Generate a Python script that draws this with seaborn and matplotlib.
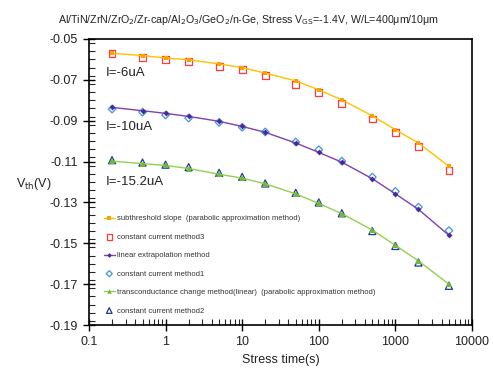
import matplotlib
matplotlib.use("Agg")
import matplotlib.pyplot as plt
import seaborn as sns
import numpy as np
import pandas as pd
from matplotlib.ticker import MultipleLocator, LogLocator, NullFormatter, FormatStrFormatter

# ---- data ----
stress_time = [0.2, 0.5, 1, 2, 5, 10, 20, 50, 100, 200, 500, 1000, 2000, 5000]
subthreshold = [-0.0570, -0.0581, -0.0593, -0.0602, -0.0622, -0.0640, -0.0667, -0.0705, -0.0749,
                -0.0798, -0.0876, -0.0944, -0.1009, -0.1123]
cc_method3 = [-0.0570, -0.0589, -0.0599, -0.0610, -0.0633, -0.0648, -0.0679, -0.0724, -0.0762,
              -0.0814, -0.0892, -0.0957, -0.1028, -0.1144]
linear_extrap = [-0.0835, -0.0851, -0.0864, -0.0879, -0.0903, -0.0928, -0.0957, -0.1009, -0.1055,
                 -0.1103, -0.1184, -0.1258, -0.1334, -0.1461]
cc_method1 = [-0.0843, -0.0858, -0.0872, -0.0887, -0.0908, -0.0932, -0.0955, -0.1004, -0.1042,
              -0.1098, -0.1176, -0.1246, -0.1323, -0.1438]
transcond = [-0.1098, -0.1110, -0.1119, -0.1134, -0.1162, -0.1181, -0.1209, -0.1258, -0.1305,
             -0.1355, -0.1435, -0.1510, -0.1586, -0.1700]
cc_method2 = [-0.1093, -0.1105, -0.1115, -0.1127, -0.1155, -0.1175, -0.1207, -0.1253, -0.1300,
              -0.1353, -0.1440, -0.1513, -0.1594, -0.1708]

labels = ["subthreshold slope  (parabolic approximation method)",
          "constant current method3",
          "linear extrapolation method",
          "constant current method1",
          "transconductance change method(linear)  (parabolic approximation method)",
          "constant current method2"]
y_ticks = [-0.05, -0.07, -0.09, -0.11, -0.13, -0.15, -0.17, -0.19]
x_ticks = [0.1, 1, 10, 100, 1000, 10000]
x_ticklabels = ["0.1", "1", "10", "100", "1000", "10000"]
annotations = ["I=-6uA", "I=-10uA", "I=-15.2uA"]
annotation_y = [-0.0665, -0.0930, -0.1202]

sns.set_theme(style="white")
plt.rcParams['font.family'] = ['Liberation Sans', 'DejaVu Sans']

df = pd.DataFrame({"t": stress_time, "s": subthreshold, "c3": cc_method3, "l": linear_extrap,
                   "c1": cc_method1, "g": transcond, "c2": cc_method2})

fig = plt.figure(figsize=(4.93, 3.76), dpi=100)
ax = fig.add_axes([0.1805, 0.1356, 0.7769, 0.7607])

sns.lineplot(data=df, x="t", y="s", ax=ax, color="#FFC000", lw=1.0, marker="s", markersize=3.2,
             markeredgewidth=0, markerfacecolor="#F5A500", label=labels[0])
sns.scatterplot(data=df, x="t", y="c3", ax=ax, marker="s", s=24, facecolor="none",
                edgecolor="#FF3B3B", linewidth=0.9, label=labels[1])
sns.lineplot(data=df, x="t", y="l", ax=ax, color="#8040B0", lw=1.0, marker="D", markersize=3.0,
             markeredgewidth=0, markerfacecolor="#4A2A9A", label=labels[2])
sns.scatterplot(data=df, x="t", y="c1", ax=ax, marker="D", s=15, facecolor="none",
                edgecolor="#3E95E0", linewidth=0.9, label=labels[3])
sns.lineplot(data=df, x="t", y="g", ax=ax, color="#92D050", lw=1.0, marker="^", markersize=4.0,
             markeredgewidth=0, markerfacecolor="#6FB83A", label=labels[4])
sns.scatterplot(data=df, x="t", y="c2", ax=ax, marker="^", s=26, facecolor="none",
                edgecolor="#1F3C88", linewidth=0.9, label=labels[5])

ax.set_xscale("log")
ax.set_xlim(0.1, 10000)
ax.set_ylim(-0.19, -0.05)
ax.set_xticks(x_ticks)
ax.set_xticklabels(x_ticklabels)
ax.xaxis.set_minor_locator(LogLocator(base=10, subs=np.arange(2, 10)))
ax.xaxis.set_minor_formatter(NullFormatter())
ax.set_yticks(y_ticks)
ax.yaxis.set_major_formatter(FormatStrFormatter("%.2f"))
ax.yaxis.set_minor_locator(MultipleLocator(0.004))

ax.tick_params(axis="both", which="major", direction="inout", length=8, width=1.0,
               labelsize=9, colors="black", pad=4, bottom=True, left=True)
ax.tick_params(axis="x", which="minor", direction="in", length=4, width=0.8, bottom=True)
ax.tick_params(axis="y", which="minor", direction="in", length=4, width=0.8, left=True)
ax.tick_params(axis="both", labelcolor="#222222")

for sp in ax.spines.values():
    sp.set_color("black")
    sp.set_linewidth(1.2)

ax.set_xlabel("Stress time(s)", fontsize=9, color="#222222", labelpad=4)
ax.set_ylabel("V$_{\\rm th}$(V)", fontsize=9, color="#222222", rotation=0, labelpad=0)
ax.yaxis.set_label_coords(-0.145, 0.465)

fig.text(0.505, 0.948,
         "Al/TiN/ZrN/ZrO$_2$/Zr-cap/Al$_2$O$_3$/GeO$_2$/n-Ge, Stress V$_{\\rm GS}$=-1.4V, W/L=400\u03bcm/10\u03bcm",
         ha="center", va="center", fontsize=7.7, color="#222222")

for txt, yv in zip(annotations, annotation_y):
    ax.text(0.168, yv, txt, fontsize=9.5, color="#222222", va="center", ha="left")

handles, labs = ax.get_legend_handles_labels()
leg = ax.legend(handles, labs, loc="upper left", bbox_to_anchor=(0.03, 0.395), frameon=False,
                fontsize=5.5, labelspacing=1.45, handlelength=1.5, handletextpad=0.3,
                borderaxespad=0, markerscale=0.8)
for t in leg.get_texts():
    t.set_color("#333333")

fig.savefig("out.png", dpi=100)
